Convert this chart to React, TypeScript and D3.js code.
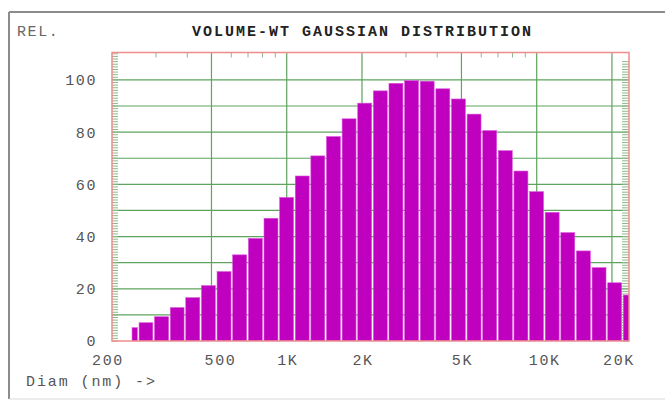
import React from 'react';
import * as d3 from 'd3';

const W = 665;
const H = 401;
const plot = { left: 112, right: 629, top: 52.5, bottom: 341 };

// diameter bin edges (nm); the first bin is a partial one
const binEdges = [
  239, 255, 294, 340, 392, 453, 523, 604, 698, 806,
  931, 1075, 1241, 1433, 1655, 1911, 2207, 2548, 2943, 3398,
  3924, 4532, 5233, 6043, 6978, 8058, 9306, 10746, 12409, 14330,
  16548, 19110, 22067, 25482,
];
// relative volume-weighted intensity per bin
const relValues = [
  5.1, 7.0, 9.3, 12.8, 16.6, 21.2, 26.6, 33.0, 39.3, 47.0,
  55.0, 63.2, 70.9, 78.3, 85.1, 91.1, 95.8, 98.7, 99.7, 99.5,
  96.6, 92.7, 86.9, 80.6, 72.9, 65.1, 57.2, 49.3, 41.5, 34.5,
  28.1, 22.3, 17.6,
];

const xTickValues = [200, 500, 1000, 2000, 5000, 10000, 20000];
const xTickLabels = ['200', '500', '1K', '2K', '5K', '10K', '20K'];
const xLabelShift = [-5, 8, 0, 0, 0, 7, 6];
const xGrid = [500, 1000, 2000, 5000, 10000, 20000];
const xMinor = [300, 400, 600, 700, 800, 900, 3000, 4000, 6000, 7000, 8000, 9000];
const yGrid = [10, 20, 30, 40, 50, 60, 70, 80, 90, 100];
const yLabels = [0, 20, 40, 60, 80, 100];

const mono = '"Liberation Mono", "DejaVu Sans Mono", monospace';

export default function App() {
  const x = d3.scaleLog().domain([200, 23400]).range([plot.left, plot.right]);
  const y = d3.scaleLinear().domain([0, 110.5]).range([plot.bottom, plot.top]);
  const yMinor = d3.range(0, 111, 1);

  const bins = relValues.map((v, i) => ({ lo: binEdges[i], hi: binEdges[i + 1], v }));

  return (
    <svg
      width={W}
      height={H}
      style={{ position: 'absolute', left: 0, top: 0, background: '#fff' }}
    >
      <defs>
        <clipPath id="plotClip">
          <rect x={plot.left} y={plot.top} width={plot.right - plot.left} height={plot.bottom - plot.top} />
        </clipPath>
      </defs>

      {/* window frame */}
      <line x1={9} y1={12} x2={W} y2={12} stroke="#8c8c8c" strokeWidth={2} />
      <line x1={9} y1={12} x2={9} y2={399} stroke="#8c8c8c" strokeWidth={2} />
      <line x1={9} y1={399} x2={W} y2={399} stroke="#d8d8d8" strokeWidth={1} />

      <text x={17} y={36} fontFamily={mono} fontSize={15} letterSpacing={1.6} fill="#666">REL.</text>
      <text x={192} y={36} fontFamily={mono} fontSize={15} fontWeight="bold" letterSpacing={2.0} fill="#222">
        VOLUME-WT GAUSSIAN DISTRIBUTION
      </text>

      {/* grid */}
      <g stroke="#5ea35e" strokeWidth={1.2}>
        {yGrid.map((v) => (
          <line key={'gy' + v} x1={plot.left} x2={plot.right} y1={y(v)} y2={y(v)} />
        ))}
        {xGrid.map((v) => (
          <line key={'gx' + v} x1={x(v)} x2={x(v)} y1={plot.top} y2={plot.bottom} />
        ))}
      </g>

      {/* minor ticks */}
      <g stroke="#8cb88c" strokeWidth={1}>
        {yMinor.map((v) => (
          <line key={'ml' + v} x1={plot.left} x2={plot.left + 6} y1={y(v)} y2={y(v)} />
        ))}
        {yMinor.filter((v) => v < 108).map((v) => (
          <line key={'mr' + v} x1={plot.right - 7} x2={plot.right} y1={y(v)} y2={y(v)} />
        ))}
        {xMinor.map((v) => (
          <line key={'mt' + v} x1={x(v)} x2={x(v)} y1={plot.top} y2={plot.top + 5} />
        ))}
      </g>

      {/* bars */}
      <g clipPath="url(#plotClip)">
        {bins.map((b, i) => (
          <rect
            key={i}
            x={x(b.lo) + 0.7}
            y={y(b.v)}
            width={Math.max(0, x(b.hi) - x(b.lo) - 1.7)}
            height={y(0) - y(b.v)}
            fill="#bf00bf"
            stroke="#d955d9"
            strokeWidth={0.6}
          />
        ))}
      </g>

      {/* plot border */}
      <rect
        x={plot.left}
        y={plot.top}
        width={plot.right - plot.left}
        height={plot.bottom - plot.top}
        fill="none"
        stroke="#f08c8c"
        strokeWidth={1.5}
      />

      {/* y labels */}
      <g fontFamily={mono} fontSize={15} fill="#555" letterSpacing={1.6} textAnchor="end">
        {yLabels.map((v) => (
          <text key={'yl' + v} x={97} y={y(v)} dy="0.36em">{v}</text>
        ))}
      </g>

      {/* x labels */}
      <g fontFamily={mono} fontSize={15} fill="#555" letterSpacing={1.6} textAnchor="middle">
        {xTickValues.map((v, i) => (
          <text key={'xl' + v} x={x(v) + xLabelShift[i] + 1} y={365}>{xTickLabels[i]}</text>
        ))}
      </g>

      <text x={26} y={386} fontFamily={mono} fontSize={15} letterSpacing={1.9} fill="#555">Diam (nm) -&gt;</text>
    </svg>
  );
}
